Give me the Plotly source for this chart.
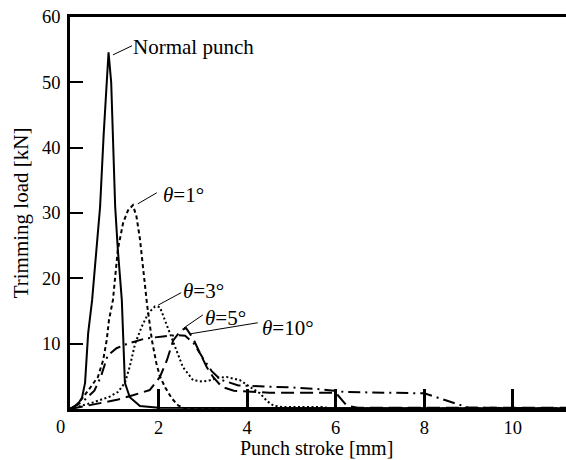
import plotly.graph_objects as go

# Punch stroke [mm] / Trimming load [kN]
normal_x = [0, 0.1, 0.2, 0.27, 0.34, 0.41, 0.5, 0.6, 0.68, 0.76, 0.82, 0.87, 0.93, 1.02, 1.08, 1.17, 1.24, 1.35, 1.58, 2.0, 4.0, 8.0, 11.2]
normal_y = [0, 0.4, 1.0, 1.7, 4.0, 11.6, 16.7, 24.4, 31.0, 42.0, 50.0, 54.6, 50.0, 31.0, 24.4, 16.7, 4.0, 1.8, 0.45, 0.2, 0.15, 0.1, 0.1]

t1_x = [0, 0.16, 0.45, 0.63, 0.75, 0.83, 0.88, 0.97, 1.08, 1.2, 1.31, 1.42, 1.5, 1.58, 1.66, 1.74, 1.85, 1.95, 2.03, 2.15, 2.3, 2.45, 2.6, 4.0, 11.2]
t1_y = [0, 0.6, 3.2, 4.9, 7.5, 10.6, 13.6, 16.7, 24.4, 28.5, 30.4, 31.2, 29.5, 26.0, 21.0, 16.0, 10.5, 7.0, 5.0, 3.3, 1.6, 0.5, 0.1, 0.05, 0.05]

t3_x = [0, 0.52, 0.9, 1.08, 1.24, 1.35, 1.47, 1.62, 1.77, 1.92, 2.03, 2.14, 2.26, 2.41, 2.55, 2.78, 3.0, 3.16, 3.35, 3.54, 3.84, 4.06, 4.29, 4.45, 4.6, 4.8, 5.7, 5.9, 11.2]
t3_y = [0, 1.0, 1.9, 2.6, 4.0, 6.5, 10.0, 12.6, 14.7, 15.7, 15.6, 13.6, 11.6, 9.0, 6.4, 4.4, 4.2, 4.4, 4.8, 4.9, 4.4, 3.4, 2.4, 1.2, 0.5, 0.3, 0.3, 0.1, 0.05]

t5_x = [0, 0.45, 1.06, 1.42, 1.8, 2.03, 2.19, 2.33, 2.5, 2.62, 2.78, 2.93, 3.09, 3.23, 3.43, 3.7, 4.5, 5.5, 6.0, 6.25, 6.5, 11.2]
t5_y = [0, 0.6, 1.4, 2.1, 2.9, 4.9, 7.5, 10.5, 12.0, 12.4, 10.8, 8.6, 6.4, 4.9, 3.4, 2.8, 2.5, 2.5, 2.5, 0.5, 0.2, 0.2]

t10_x = [0, 0.3, 0.55, 0.7, 0.85, 1.05, 1.3, 1.7, 2.1, 2.4, 2.6, 2.8, 3.0, 3.2, 3.4, 3.8, 5.0, 5.7, 6.2, 8.0, 8.5, 9.0, 11.2]
t10_y = [0, 1.2, 2.8, 5.0, 8.2, 9.3, 10.0, 10.8, 11.1, 11.3, 11.2, 10.0, 7.8, 5.8, 4.5, 3.6, 3.3, 3.0, 2.6, 2.4, 1.3, 0.2, 0.1]

x_ticks = [2, 4, 6, 8, 10]
y_ticks = [10, 20, 30, 40, 50, 60]

FONT = "Liberation Serif"

fig = go.Figure()
series = [
    (normal_x, normal_y, "solid", 2),
    (t1_x, t1_y, "4px,3px", 2),
    (t3_x, t3_y, "2px,2.5px", 2),
    (t5_x, t5_y, "13px,6px", 2),
    (t10_x, t10_y, "12px,5px,2px,5px", 2),
]
for xs, ys, dash, w in series:
    fig.add_trace(go.Scatter(x=xs, y=ys, mode="lines",
                             line=dict(color="black", width=w, dash=dash),
                             showlegend=False, hoverinfo="skip"))

# leader lines and labels
labels = [
    ("Normal punch", (0.97, 54.2), (1.40, 55.6), 1.42, 55.4),
    ("<i>θ</i>=1°", (1.53, 31.4), (1.96, 33.1), 2.10, 32.8),
    ("<i>θ</i>=3°", (1.99, 15.9), (2.51, 17.8), 2.55, 18.1),
    ("<i>θ</i>=5°", (2.57, 12.4), (3.00, 14.4), 3.05, 13.9),
    ("<i>θ</i>=10°", (2.71, 11.5), (4.24, 13.2), 4.33, 12.4),
]
for txt, p0, p1, tx, ty in labels:
    fig.add_shape(type="line", x0=p0[0], y0=p0[1], x1=p1[0], y1=p1[1],
                  xref="x", yref="y", line=dict(color="black", width=1))
    fig.add_annotation(x=tx, y=ty, xref="x", yref="y", text=txt, showarrow=False,
                       xanchor="left", yanchor="middle", xshift=-2,
                       font=dict(family=FONT, size=21, color="black"))

# corner "0"
fig.add_annotation(x=-0.02, y=-0.046, xref="paper", yref="paper", text="0", showarrow=False,
                   xanchor="center", yanchor="middle",
                   font=dict(family=FONT, size=18.5, color="black"))

# x-axis title
fig.add_annotation(x=0.496, y=-0.0995, xref="paper", yref="paper", text="Punch stroke [mm]",
                   showarrow=False, xanchor="center", yanchor="middle", borderpad=0,
                   font=dict(family=FONT, size=20, color="black"))

fig.update_layout(
    width=566, height=460,
    margin=dict(l=70, r=0, t=17, b=51),
    paper_bgcolor="white", plot_bgcolor="white",
    font=dict(family=FONT, size=18.5, color="black"),
    xaxis=dict(range=[0, 11.2], tickvals=x_ticks, ticks="inside", ticklen=20, tickwidth=2.5,
               tickcolor="black", showline=True, linewidth=3, linecolor="black", mirror=True,
               showgrid=False, zeroline=False, automargin=False),
    yaxis=dict(range=[0, 60], tickvals=y_ticks, ticks="inside", ticklen=13, tickwidth=2,
               tickcolor="black", showline=True, linewidth=2.5, linecolor="black",
               showgrid=False, zeroline=False, ticklabelstandoff=3, automargin=False,
               title=dict(text="Trimming load [kN]", font=dict(family=FONT, size=21), standoff=8)),
)

fig.write_html("out.html", config={"displayModeBar": False},
               post_script="document.body.style.margin='0';document.body.style.padding='0';document.body.style.overflow='hidden';")
